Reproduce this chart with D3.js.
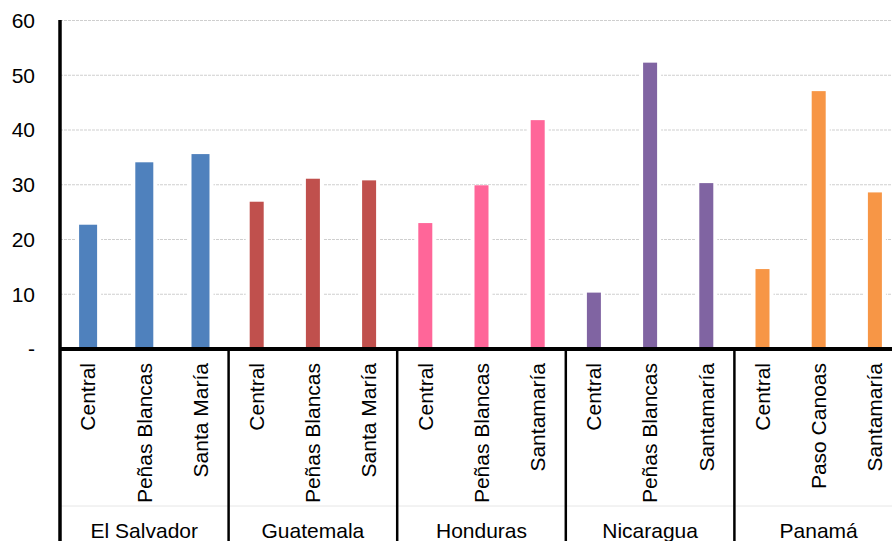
<!DOCTYPE html>
<html><head><meta charset="utf-8">
<script src="https://cdn.jsdelivr.net/npm/d3@7"></script>
<style>body{margin:0;background:#fff;}svg{display:block;font-family:"Liberation Sans",Arial,sans-serif;}</style>
</head><body><svg id="c" width="892" height="541"></svg>
<script>
const countries = ["El Salvador","Guatemala","Honduras","Nicaragua","Panamá"];
const stations = [
  ["Central","Peñas Blancas","Santa María"],
  ["Central","Peñas Blancas","Santa María"],
  ["Central","Peñas Blancas","Santamaría"],
  ["Central","Peñas Blancas","Santamaría"],
  ["Central","Paso Canoas","Santamaría"]
];
const values = [
  [22.7, 34.1, 35.6],
  [26.9, 31.1, 30.8],
  [23.0, 29.9, 41.8],
  [10.3, 52.3, 30.3],
  [14.6, 47.1, 28.6]
];
const colors = ["#4F81BD","#C0504D","#FF6699","#8064A2","#F79646"];
const yTicks = [0,10,20,30,40,50,60];
const yTickLabels = ["-","10","20","30","40","50","60"];

const rows = [];
countries.forEach((c,i)=>stations[i].forEach((s,j)=>rows.push({key:c+"|"+s, country:c, gi:i, station:s, value:values[i][j]})));

const svg = d3.select("#c");
const x0 = 60, x1 = 903;
const x = d3.scaleBand().domain(rows.map(d=>d.key)).range([x0,x1]).padding(0);
const y = d3.scaleLinear().domain([0,60]).range([349,20.5]);
const gx = d3.scaleBand().domain(countries).range([x0,x1]);

// gridlines
svg.append("g").selectAll("line").data(yTicks.filter(t=>t>0)).join("line")
  .attr("x1",x0).attr("x2",892).attr("y1",d=>y(d)).attr("y2",d=>y(d))
  .attr("stroke","#cfcfcf").attr("stroke-width",1).attr("stroke-dasharray","3,1");

const bw = d => d.gi===0 ? 18 : 14;
// white halos behind bars
svg.append("g").selectAll("rect").data(rows).join("rect")
  .attr("x",d=>x(d.key)+x.bandwidth()/2-bw(d)/2-4).attr("width",d=>bw(d)+8)
  .attr("y",d=>y(d.value)).attr("height",d=>y(0)-y(d.value)).attr("fill","#fff");
// bars
svg.append("g").selectAll("rect").data(rows).join("rect")
  .attr("x",d=>x(d.key)+x.bandwidth()/2-bw(d)/2).attr("width",bw)
  .attr("y",d=>y(d.value)).attr("height",d=>y(0)-y(d.value))
  .attr("fill",d=>colors[d.gi]);

// y labels
svg.append("g").selectAll("text").data(yTicks).join("text")
  .attr("x",35).attr("y",d=>y(d)).attr("dy","0.35em").attr("text-anchor","end")
  .attr("font-size",21).attr("fill","#000").text((d,i)=>yTickLabels[i]);

// faint line in label area
svg.append("line").attr("x1",x0).attr("x2",892).attr("y1",506).attr("y2",506)
  .attr("stroke","#e6e6e6").attr("stroke-width",1);

// group separators
svg.append("g").selectAll("line").data(countries.slice(1)).join("line")
  .attr("x1",d=>gx(d)).attr("x2",d=>gx(d)).attr("y1",349).attr("y2",541)
  .attr("stroke","#000").attr("stroke-width",2.5);

// axes
svg.append("line").attr("x1",x0).attr("x2",892).attr("y1",349).attr("y2",349)
  .attr("stroke","#000").attr("stroke-width",4);
svg.append("line").attr("x1",x0).attr("x2",x0).attr("y1",20).attr("y2",541)
  .attr("stroke","#000").attr("stroke-width",3.5);

// category labels rotated
svg.append("g").selectAll("text").data(rows).join("text")
  .attr("transform",d=>`translate(${x(d.key)+x.bandwidth()/2},363) rotate(-90)`)
  .attr("dy","0.35em").attr("text-anchor","end").attr("font-size",21).attr("fill","#000")
  .text(d=>d.station);

// group labels
svg.append("g").selectAll("text").data(countries).join("text")
  .attr("x",d=>gx(d)+gx.bandwidth()/2).attr("y",538).attr("text-anchor","middle")
  .attr("font-size",21).attr("fill","#000").text(d=>d);
</script></body></html>
